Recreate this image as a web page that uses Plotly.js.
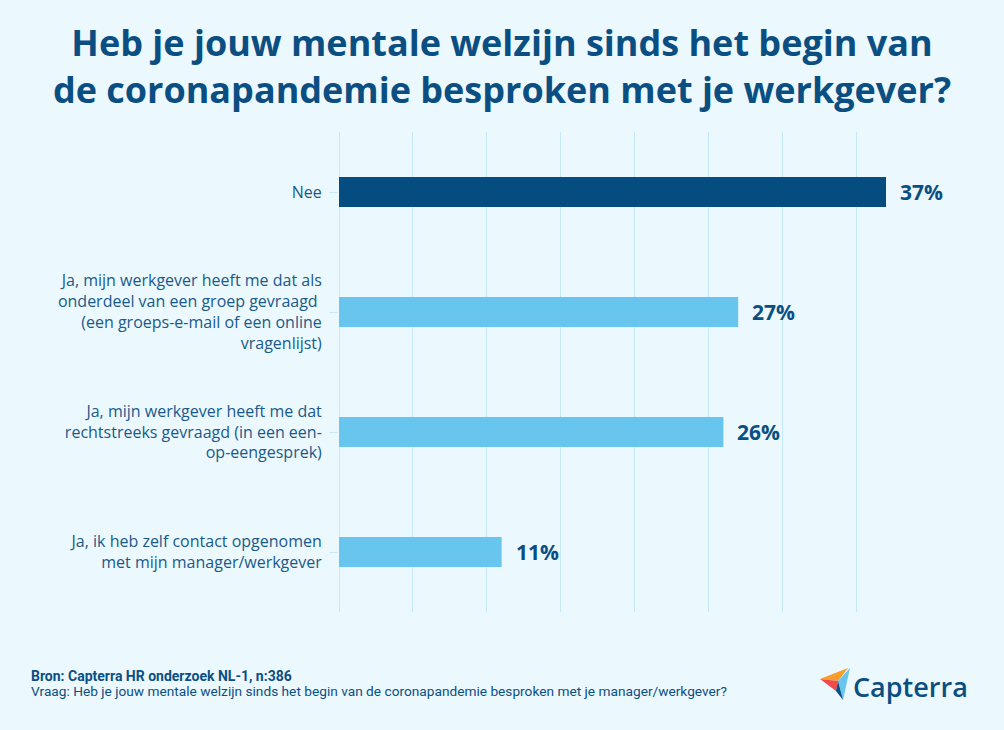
<!DOCTYPE html>
<html>
<head>
<meta charset="utf-8">
<script src="https://cdn.plot.ly/plotly-3.0.1.min.js"></script>
<style>
html,body{margin:0;padding:0;background:#ebf8fd;}
#chart{width:1004px;height:730px;}
</style>
</head>
<body>
<div id="chart"></div>
<script>
// ---- data ----
const categories = [
  "Nee",
  "Ja, mijn werkgever heeft me dat als<br>onderdeel van een groep gevraagd <br>(een groeps-e-mail of een online<br>vragenlijst)",
  "Ja, mijn werkgever heeft me dat<br>rechtstreeks gevraagd (in een een-<br>op-eengesprek)",
  "Ja, ik heb zelf contact opgenomen<br>met mijn manager/werkgever"
];
const values = [37, 27, 26, 11];
const valueLabels = ["37%", "27%", "26%", "11%"];
const barColors = ["#054d80", "#68c5ee", "#68c5ee", "#68c5ee"];
const tickValues = [0, 5, 10, 15, 20, 25, 30, 35];

// ---- layout geometry ----
const W = 1004, H = 730;
const L = 339, R = 920, T = 132, B = 612;
const px = x => (x - L) / (R - L);
const py = y => (B - y) / (B - T);
function path(pts){ return 'M' + pts.map(p => px(p[0]).toFixed(4) + ',' + py(p[1]).toFixed(4)).join(' L') + ' Z'; }

const darkBlue = "#0b4f82";
const font = "'Open Sans', 'Noto Sans', sans-serif";
const narrow = "'Liberation Sans Narrow', 'Roboto', sans-serif";

const trace = {
  type: 'bar',
  orientation: 'h',
  x: values,
  y: categories,
  marker: {color: barColors},
  width: 0.25,
  hoverinfo: 'skip'
};

const annotations = values.map((v, i) => ({
  x: v, y: categories[i], xref: 'x', yref: 'y',
  text: valueLabels[i], showarrow: false,
  xanchor: 'left', yanchor: 'middle', xshift: 12,
  font: {family: font, size: 21, color: darkBlue, weight: 700}
}));

annotations.push({
  xref: 'paper', yref: 'paper', x: px(29), y: py(676), xanchor: 'left', yanchor: 'middle',
  text: '<b>Bron: Capterra HR onderzoek NL-1, n:386</b>', showarrow: false,
  font: {family: narrow, size: 14, color: darkBlue}
});
annotations.push({
  xref: 'paper', yref: 'paper', x: px(29), y: py(691), xanchor: 'left', yanchor: 'middle',
  text: 'Vraag: Heb je jouw mentale welzijn sinds het begin van de coronapandemie besproken met je manager/werkgever?', showarrow: false,
  font: {family: narrow, size: 13.7, color: darkBlue}
});
annotations.push({
  xref: 'paper', yref: 'paper', x: px(851), y: py(686), xanchor: 'left', yanchor: 'middle',
  text: 'Capterra', showarrow: false,
  font: {family: font, size: 27, color: darkBlue, weight: 600}
});

const shapes = [
  {type:'path', xref:'paper', yref:'paper', path: path([[820,679],[848,668],[838,681]]), fillcolor:'#f89c2a', line:{width:0}},
  {type:'path', xref:'paper', yref:'paper', path: path([[820,679],[838,681],[836,691]]), fillcolor:'#ef4b4b', line:{width:0}},
  {type:'path', xref:'paper', yref:'paper', path: path([[850,668],[843,700],[838,681]]), fillcolor:'#68c5ee', line:{width:0}},
  {type:'path', xref:'paper', yref:'paper', path: path([[838,681],[843,700],[836,691]]), fillcolor:'#0b4f82', line:{width:0}}
];

const layout = {
  width: W, height: H,
  margin: {l: L, r: W - R, t: T, b: H - B, pad: 0},
  paper_bgcolor: '#ebf8fd',
  plot_bgcolor: '#ebf8fd',
  showlegend: false,
  title: {
    text: '<b>Heb je jouw mentale welzijn sinds het begin van<br>de coronapandemie besproken met je werkgever?</b>',
    x: 0.5, xanchor: 'center', xref: 'container',
    y: 1 - 56/H, yanchor: 'middle', yref: 'container',
    font: {family: font, size: 36, color: darkBlue}
  },
  xaxis: {
    range: [0, 39.3],
    tickvals: tickValues,
    showticklabels: false,
    showgrid: true, gridcolor: '#c5e9f8', gridwidth: 1,
    zeroline: true, zerolinecolor: '#c5e9f8', zerolinewidth: 1,
    showline: false, fixedrange: true
  },
  yaxis: {
    autorange: false, range: [3.5, -0.5],
    type: 'category',
    showgrid: false, zeroline: false, showline: false,
    ticks: 'outside', ticklen: 9, tickcolor: '#c5e9f8', tickwidth: 1,
    ticklabelstandoff: 4,
    tickfont: {family: font, size: 16, color: '#1a5a8a'},
    fixedrange: true
  },
  annotations: annotations,
  shapes: shapes,
  bargap: 0.75
};

Plotly.newPlot('chart', [trace], layout, {displayModeBar: false, staticPlot: true});
</script>
</body>
</html>
